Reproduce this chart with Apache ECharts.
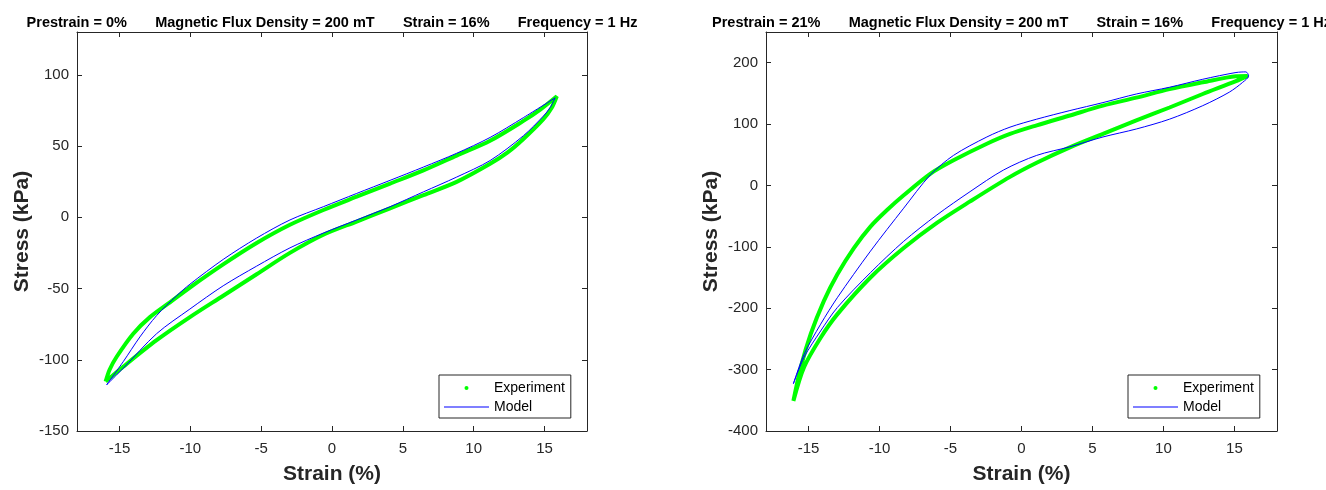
<!DOCTYPE html>
<html><head><meta charset="utf-8">
<script src="https://cdn.jsdelivr.net/npm/echarts@6/dist/echarts.min.js"></script>
<style>html,body{margin:0;padding:0;background:#fff}#c{width:1326px;height:490px}</style>
</head><body><div id="c"></div>
<script>
// ---------- data ----------
const titleLeft = 'Prestrain = 0%       Magnetic Flux Density = 200 mT       Strain = 16%       Frequency = 1 Hz';
const titleRight = 'Prestrain = 21%       Magnetic Flux Density = 200 mT       Strain = 16%       Frequency = 1 Hz';
const xAxisName = 'Strain (%)';
const yAxisName = 'Stress (kPa)';
const legendNames = ['Experiment', 'Model'];

const strainTicks = [-15, -10, -5, 0, 5, 10, 15];
const stressTicks0 = [-150, -100, -50, 0, 50, 100];
const stressTicks21 = [-400, -300, -200, -100, 0, 100, 200];

// Prestrain 0% — experiment (upper branch up, then lower branch back)
const exp0Strain = [-15.98, -15.7, -15.2, -14.03, -12.85, -11.44, -10.03, -7.68, -5.32, -2.97, -0.61, 1.74, 4.10, 6.45, 8.80, 11.16, 13.51, 14.7, 15.87,
                    15.51, 14.92, 13.51, 12.4, 11.16, 8.80, 6.45, 4.10, 1.74, -0.61, -2.97, -5.32, -7.68, -10.03, -12.38, -14.74, -15.98];
const exp0Stress = [-115.3, -107, -97.9, -81.7, -70.1, -59.7, -49.3, -33.1, -18.1, -5.3, 5.1, 14.4, 23.6, 32.9, 43.3, 53.7, 67.6, 75.5, 84.9,
                    76.8, 68.8, 54.9, 45.5, 37.5, 24.8, 15.5, 6.3, -3.0, -12.3, -25.0, -40.0, -55.1, -70.1, -86.3, -104.9, -115.3];
// Prestrain 0% — model
const mod0Strain = [-15.91, -14.74, -13.56, -12.38, -10.97, -10.03, -7.68, -5.32, -2.97, -0.61, 1.74, 4.10, 6.45, 8.80, 11.16, 13.51, 15.75,
                    15.4, 14.92, 13.51, 11.16, 8.80, 6.45, 4.10, 1.74, -0.61, -2.97, -5.32, -7.68, -10.03, -12.38, -14.74, -15.91];
const mod0Stress = [-117.6, -101.4, -84.0, -69.0, -55.1, -47.0, -29.6, -14.6, -1.9, 7.4, 16.7, 25.9, 35.2, 44.9, 56.0, 69.9, 83.8,
                    77.0, 71.0, 57.2, 39.8, 28.2, 17.8, 7.4, -1.9, -11.1, -21.5, -34.3, -48.1, -64.4, -81.7, -106.0, -117.6];

// Prestrain 21% — experiment
const exp21Strain = [-16.07, -15.55, -14.85, -13.92, -12.98, -11.81, -10.64, -9.47, -8.30, -6.43, -4.79, -2.44, -0.81, 1.07, 3.41, 5.74, 8.09, 10.43, 12.77, 15.11, 15.93,
                     15.11, 12.77, 10.43, 8.09, 5.74, 3.41, 1.07, -0.81, -3.62, -5.96, -8.30, -10.64, -12.98, -14.15, -15.32, -16.07];
const exp21Stress = [-351, -296, -242, -188, -145, -102, -67, -40, -16, 19, 41, 68, 84, 98, 114, 130, 143, 157, 168, 178, 178.5,
                     170, 149, 127, 106, 84, 62, 37, 14, -26, -61, -102, -150, -210, -248, -296, -351];
// Prestrain 21% — model
const mod21Strain = [-16.07, -15.32, -14.15, -12.98, -10.64, -8.30, -6.43, -4.79, -2.44, -0.81, 1.07, 3.41, 5.74, 8.09, 10.43, 12.77, 15.11, 15.81, 16.0,
                     15.58, 14.64, 12.77, 10.43, 8.09, 5.74, 3.41, 1.07, -1.28, -3.62, -5.96, -8.30, -10.64, -12.98, -14.15, -15.32, -16.07];
const mod21Stress = [-323, -275, -226, -183, -107, -37, 17, 49, 79, 95, 108, 122, 135, 149, 160, 173, 184, 185, 178.5,
                     168, 152, 130, 108, 92, 79, 63, 49, 25, -10, -48, -91, -142, -199, -237, -280, -323];

// ---------- chart ----------
const zip = (a, b) => a.map((v, i) => [v, b[i]]);
const FONT = "'Liberation Sans', Arial, Helvetica, sans-serif";
const AX = '#262626';
const chart = echarts.init(document.getElementById('c'), null, {renderer: 'canvas'});

function xAx(gi, pos, main) {
  return {
    type: 'value', gridIndex: gi, position: pos, min: -18, max: 18,
    name: main ? xAxisName : '', nameLocation: 'middle', nameGap: 33,
    nameTextStyle: {fontFamily: FONT, fontSize: 21, fontWeight: 'bold', color: AX},
    axisLine: {show: true, onZero: false, lineStyle: {color: AX, width: 1}},
    axisTick: {show: true, inside: true, length: 5, customValues: strainTicks, lineStyle: {color: AX, width: 1}},
    axisLabel: {show: main, customValues: strainTicks, margin: 10, fontFamily: FONT, fontSize: 15, color: AX},
    splitLine: {show: false}
  };
}
function yAx(gi, pos, main, mn, mx, ticks) {
  return {
    type: 'value', gridIndex: gi, position: pos, min: mn, max: mx,
    name: main ? yAxisName : '', nameLocation: 'middle', nameGap: 44,
    nameTextStyle: {fontFamily: FONT, fontSize: 21, fontWeight: 'bold', color: AX},
    axisLine: {show: true, onZero: false, lineStyle: {color: AX, width: 1}},
    axisTick: {show: true, inside: true, length: 5, customValues: ticks, lineStyle: {color: AX, width: 1}},
    axisLabel: {show: main, customValues: ticks, margin: 8, fontFamily: FONT, fontSize: 15, color: AX},
    splitLine: {show: false}
  };
}
function legendAt(left) {
  return {
    orient: 'vertical', left: left, top: 375,
    padding: [6, 6, 4, 5], itemGap: 5, itemWidth: 45, itemHeight: 4,
    backgroundColor: '#fff', borderColor: AX, borderWidth: 1, borderRadius: 0,
    textStyle: {fontFamily: FONT, fontSize: 14, color: '#000', lineHeight: 14},
    selectedMode: false,
    data: [
      {name: legendNames[0], icon: 'circle'},
      {name: legendNames[1], icon: 'path://M0,0H48V1H0Z'}
    ]
  };
}
const expStyle = {type: 'line', name: legendNames[0], color: '#00ff00', showSymbol: false, symbol: 'none', smooth: 0.3,
  lineStyle: {width: 4, color: '#00ff00'}, itemStyle: {color: '#00ff00'}, z: 2};
const modStyle = {type: 'line', name: legendNames[1], color: '#0000ff', showSymbol: false, symbol: 'none', smooth: 0.3,
  lineStyle: {width: 1, color: '#0000ff'}, itemStyle: {color: '#0000ff'}, z: 3};

chart.setOption({
  animation: false,
  backgroundColor: '#fff',
  grid: [
    {left: 77, top: 32, width: 510, height: 402},
    {left: 766, top: 32, width: 511, height: 402}
  ],
  xAxis: [xAx(0, 'bottom', true), xAx(0, 'top', false), xAx(1, 'bottom', true), xAx(1, 'top', false)],
  yAxis: [
    yAx(0, 'left', true, -150, 130, stressTicks0), yAx(0, 'right', false, -150, 130, stressTicks0),
    yAx(1, 'left', true, -400, 250, stressTicks21), yAx(1, 'right', false, -400, 250, stressTicks21)
  ],
  legend: [legendAt(439), legendAt(1128)],
  graphic: [
    {type: 'text', x: 332, y: 22.5, style: {text: titleLeft, align: 'center', verticalAlign: 'middle', font: 'bold 14.5px ' + FONT, fill: '#000'}},
    {type: 'text', x: 1021.5, y: 22.5, style: {text: titleRight, align: 'center', verticalAlign: 'middle', font: 'bold 14.5px ' + FONT, fill: '#000'}}
  ],
  series: [
    Object.assign({}, expStyle, {xAxisIndex: 0, yAxisIndex: 0, data: zip(exp0Strain, exp0Stress)}),
    Object.assign({}, modStyle, {xAxisIndex: 0, yAxisIndex: 0, data: zip(mod0Strain, mod0Stress)}),
    Object.assign({}, expStyle, {xAxisIndex: 2, yAxisIndex: 2, data: zip(exp21Strain, exp21Stress)}),
    Object.assign({}, modStyle, {xAxisIndex: 2, yAxisIndex: 2, data: zip(mod21Strain, mod21Stress)})
  ]
});
</script>
</body></html>
